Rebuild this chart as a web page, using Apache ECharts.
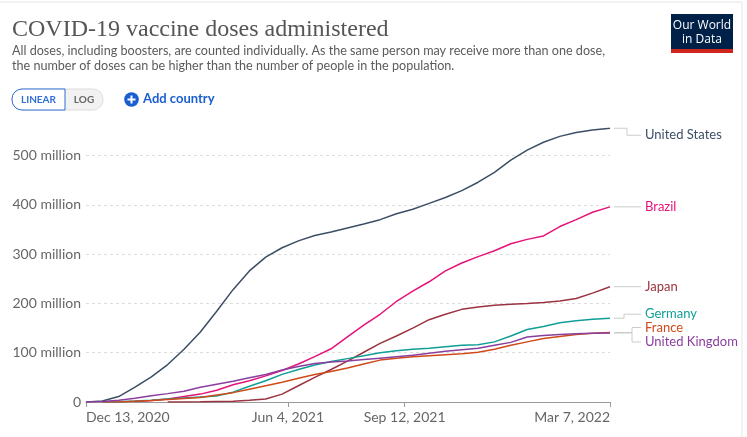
<!DOCTYPE html>
<html>
<head>
<meta charset="utf-8">
<title>COVID-19 vaccine doses administered</title>
<script src="https://cdn.jsdelivr.net/npm/echarts@6/dist/echarts.min.js"></script>
<style>
  html, body { margin: 0; padding: 0; background: #fff; }
  #chart { width: 747px; height: 437px; }
</style>
</head>
<body>
<div id="chart"></div>
<script>
// dates sampled every two weeks, values in million doses
var dates = [
    '2020-12-13', '2020-12-27', '2021-01-10', '2021-01-24', '2021-02-07', '2021-02-21',
    '2021-03-07', '2021-03-21', '2021-04-04', '2021-04-18', '2021-05-02', '2021-05-16',
    '2021-05-30', '2021-06-13', '2021-06-27', '2021-07-11', '2021-07-25', '2021-08-08',
    '2021-08-22', '2021-09-05', '2021-09-19', '2021-10-03', '2021-10-17', '2021-10-31',
    '2021-11-14', '2021-11-28', '2021-12-12', '2021-12-26', '2022-01-09', '2022-01-23',
    '2022-02-06', '2022-02-20', '2022-03-07'
];
var unitedStates = [0, 2, 11, 30, 51, 76, 107, 142, 184, 228, 266, 294, 313, 327, 338, 345, 353,
    361, 370, 382, 391, 403, 415, 429, 446, 466, 491, 511, 527, 539, 547, 552, 555.5];
var brazil = [null, null, null, 1, 3, 6, 11, 16, 24, 35, 43, 53, 64, 77, 92, 108, 132,
    156, 178, 204, 225, 244, 266, 282, 295, 307, 321, 330, 337, 356, 370, 385, 396];
var japan = [null, null, null, null, null, 0.05, 0.1, 0.3, 1, 1.5, 3.5, 6, 16, 33, 50, 66, 83,
    101, 119, 134, 150, 167, 178, 188, 193, 196.5, 198.5, 200, 202, 205, 210, 221, 234];
var germany = [null, 0, 0.7, 2, 3.5, 6, 8, 10, 12, 20, 32, 43, 56, 66, 75, 82, 88,
    94, 100, 104, 107, 109, 112, 115, 116, 122, 134, 147, 153, 161, 165, 168, 170];
var france = [null, 0, 0.1, 1.5, 3, 5, 7, 9, 14, 19, 26, 33, 40, 48, 56, 62, 69,
    77, 85, 89, 92, 94, 96, 98, 101, 107, 115, 122, 129, 133, 137, 139.5, 141];
var unitedKingdom = [0.1, 1, 3.5, 7.5, 12.5, 17, 22, 30, 36, 42, 49, 56, 65, 72, 78, 81, 83,
    86, 89, 92, 95, 99, 103, 106, 109, 115, 121, 132, 135, 137, 138.5, 139.5, 140];

var countries = ['United States', 'Brazil', 'Japan', 'Germany', 'France', 'United Kingdom'];
var colors = ['#3c4e66', '#e5127a', '#9b3340', '#109e96', '#d04a19', '#8a3f9e'];
var xTicks = ['2020-12-13', '2021-06-04', '2021-09-12', '2022-03-07'];
var yTicks = [0, 100, 200, 300, 400, 500];

// how far each end label is pushed off its line end, and where the connector bends
var labelShift = { 'United States': 7, 'Brazil': 0, 'Japan': 0, 'Germany': -4, 'France': -5, 'United Kingdom': 9 };
var labelBend = { 'United States': 13, 'Brazil': 13, 'Japan': 13, 'Germany': 10, 'France': 18, 'United Kingdom': 18 };

var months = ['Jan', 'Feb', 'Mar', 'Apr', 'May', 'Jun', 'Jul', 'Aug', 'Sep', 'Oct', 'Nov', 'Dec'];
function ts(s) { return Date.parse(s + 'T00:00:00Z'); }
function fmtDate(v) {
    var d = new Date(v);
    return months[d.getUTCMonth()] + ' ' + d.getUTCDate() + ', ' + d.getUTCFullYear();
}
function pairs(vals) {
    return dates.map(function (d, i) { return [ts(d), vals[i]]; });
}

var values = [unitedStates, brazil, japan, germany, france, unitedKingdom];
var series = countries.map(function (name, i) {
    return {
        name: name,
        type: 'line',
        data: pairs(values[i]),
        showSymbol: false,
        lineStyle: { width: 1.5, color: colors[i] },
        itemStyle: { color: colors[i] },
        endLabel: {
            show: true,
            formatter: '{a}',
            color: colors[i],
            fontFamily: 'Lato',
            fontSize: 13,
            distance: 35,
            offset: [0, labelShift[name]]
        }
    };
});

var xTickVals = xTicks.map(ts);
var myChart = echarts.init(document.getElementById('chart'));
var option = {
    animation: false,
    textStyle: { fontFamily: 'Lato' },
    title: {
        text: 'COVID-19 vaccine doses administered',
        left: 12,
        top: 18,
        padding: 0,
        textStyle: { fontFamily: 'Liberation Serif', fontSize: 24, fontWeight: 'normal', color: '#555' },
        subtext: 'All doses, including boosters, are counted individually. As the same person may receive more than one dose,\nthe number of doses can be higher than the number of people in the population.',
        subtextStyle: { fontFamily: 'Lato', fontSize: 12.6, color: '#5b5b5b', lineHeight: 14.5 },
        itemGap: 2
    },
    graphic: [
        // card border
        { type: 'rect', shape: { x: -5, y: 2, width: 747, height: 460 }, style: { fill: 'none', stroke: '#e6e6e6', lineWidth: 1 }, silent: true },
        // logo
        { type: 'rect', shape: { x: 671, y: 14, width: 62, height: 38 }, style: { fill: '#002147' } },
        { type: 'rect', shape: { x: 671, y: 49, width: 62, height: 4 }, style: { fill: '#ce261e' } },
        { type: 'text', x: 702, y: 26, style: { text: 'Our World', fill: '#fff', font: '12px "Open Sans"', textAlign: 'center', textVerticalAlign: 'middle' } },
        { type: 'text', x: 702, y: 40, style: { text: 'in Data', fill: '#fff', font: '12px "Open Sans"', textAlign: 'center', textVerticalAlign: 'middle' } },
        // linear / log toggle
        { type: 'rect', shape: { x: 12, y: 89, width: 91, height: 21, r: 10 }, style: { fill: '#f2f2f2', stroke: '#ddd', lineWidth: 1 } },
        { type: 'rect', shape: { x: 12, y: 89, width: 53, height: 21, r: [10, 0, 0, 10] }, style: { fill: '#fff', stroke: '#2f6fd6', lineWidth: 1 } },
        { type: 'text', x: 38.5, y: 100, style: { text: 'LINEAR', fill: '#2f6fd6', font: 'bold 10px Lato', textAlign: 'center', textVerticalAlign: 'middle' } },
        { type: 'text', x: 84, y: 100, style: { text: 'LOG', fill: '#666', font: 'bold 10px Lato', textAlign: 'center', textVerticalAlign: 'middle' } },
        // add country
        { type: 'circle', shape: { cx: 131.5, cy: 99.5, r: 7.3 }, style: { fill: '#1a5fcf' } },
        { type: 'rect', shape: { x: 127.5, y: 98.5, width: 8, height: 2 }, style: { fill: '#fff' } },
        { type: 'rect', shape: { x: 130.5, y: 95.5, width: 2, height: 8 }, style: { fill: '#fff' } },
        { type: 'text', x: 143, y: 99, style: { text: 'Add country', fill: '#1a5fcf', font: 'bold 13px Lato', textVerticalAlign: 'middle' } }
    ],
    grid: { left: 86, right: 137, top: 128, bottom: 35, containLabel: false },
    xAxis: {
        type: 'value',
        min: ts(dates[0]),
        max: ts(dates[dates.length - 1]),
        axisLine: { show: true, lineStyle: { color: '#999' } },
        axisTick: { show: true, customValues: xTickVals, length: 5, lineStyle: { color: '#999' } },
        axisLabel: {
            customValues: xTickVals,
            formatter: function (v) { return fmtDate(v); },
            color: '#666',
            fontSize: 14,
            margin: 8,
            alignMinLabel: 'left',
            alignMaxLabel: 'right'
        },
        splitLine: { show: false }
    },
    yAxis: {
        type: 'value',
        min: 0,
        max: 556,
        interval: 100,
        axisLine: { show: false },
        axisTick: { show: false },
        axisLabel: {
            color: '#666',
            fontSize: 14,
            margin: 5,
            showMaxLabel: false,
            formatter: function (v) {
                if (yTicks.indexOf(v) < 0) return '';
                return v === 0 ? '0' : v + ' million';
            }
        },
        splitLine: { show: true, showMaxLine: false, showMinLine: false, lineStyle: { color: '#ddd', type: [3, 3] } }
    },
    series: series
};
myChart.setOption(option);

// grey connectors from each line end to its label
var connectors = countries.map(function (name, i) {
    var vals = values[i];
    var end = myChart.convertToPixel({ gridIndex: 0 }, [ts(dates[dates.length - 1]), vals[vals.length - 1]]);
    var x0 = end[0] + 4, y0 = end[1], yl = end[1] + labelShift[name], xb = x0 + labelBend[name];
    return {
        type: 'polyline',
        silent: true,
        shape: { points: [[x0, y0], [xb, y0], [xb, yl], [end[0] + 31, yl]] },
        style: { fill: 'none', stroke: '#ccc', lineWidth: 1 }
    };
});
myChart.setOption({ graphic: option.graphic.concat(connectors) });
</script>
</body>
</html>
